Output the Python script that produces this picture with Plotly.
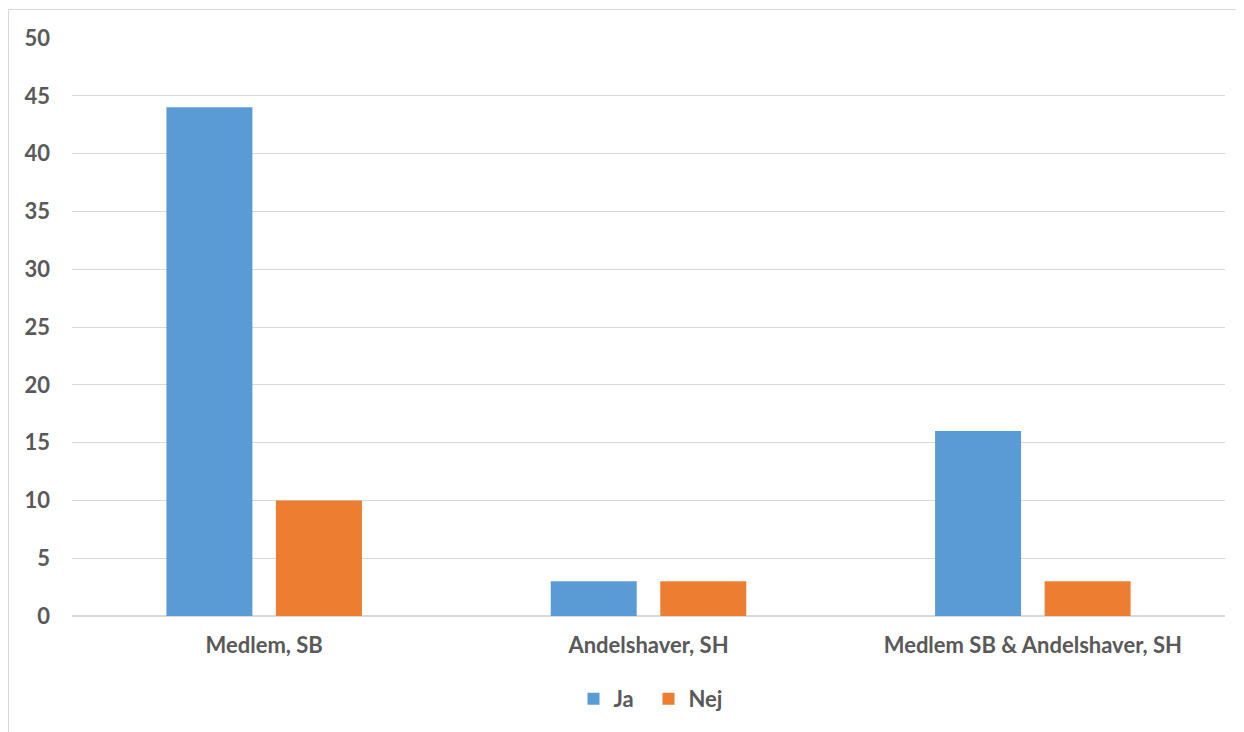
import plotly.graph_objects as go

categories = ["Medlem, SB", "Andelshaver, SH", "Medlem SB & Andelshaver, SH"]
ja_values = [44, 3, 16]
nej_values = [10, 3, 3]
y_ticks = [0, 5, 10, 15, 20, 25, 30, 35, 40, 45, 50]

font_family = "Lato, 'Liberation Sans', sans-serif"
text_color = "#595959"
grid_color = "#D9D9D9"

fig = go.Figure()
fig.add_trace(go.Bar(name="Ja", x=categories, y=ja_values, marker=dict(color="#5B9BD5", line=dict(width=0))))
fig.add_trace(go.Bar(name="Nej", x=categories, y=nej_values, marker=dict(color="#ED7D31", line=dict(width=0))))

# page has 8px body margin; figure placed at (8,8)
W, H = 1236, 724
ml, mr, mt, mb = 64, 19, 30, 116
pw, ph = W - ml - mr, H - mt - mb

tf = dict(size=22, color=text_color, family=font_family, weight="bold")

fig.update_layout(
    width=W, height=H,
    margin=dict(l=ml, r=mr, t=mt, b=mb),
    paper_bgcolor="white", plot_bgcolor="white",
    barmode="group", bargap=0.43, bargroupgap=0.215,
    font=dict(family=font_family, color=text_color, size=22, weight="bold"),
    showlegend=True,
    legend=dict(orientation="h", x=0.5, xanchor="center", y=(608 - 691) / ph, yanchor="middle",
                font=tf, itemwidth=30, traceorder="normal",
                entrywidth=30, entrywidthmode="pixels"),
    xaxis=dict(showgrid=False, showline=False, ticks="", tickfont=tf, ticklabelstandoff=14),
    yaxis=dict(range=[0, 50], tickvals=y_ticks, showgrid=True, gridcolor=grid_color, gridwidth=1,
               zeroline=True, zerolinecolor=grid_color, zerolinewidth=1.5, showline=False, ticks="",
               tickfont=tf, ticklabelstandoff=21),
    shapes=[dict(type="rect", xref="paper", yref="paper",
                 x0=(0.5 - ml) / pw, x1=(W + 20 - ml) / pw,
                 y0=(H - mb - (H + 20)) / ph, y1=1 + (mt - 1.5) / ph,
                 line=dict(color=grid_color, width=1), fillcolor="rgba(0,0,0,0)", layer="below")],
)

fig.write_html("out.html")
